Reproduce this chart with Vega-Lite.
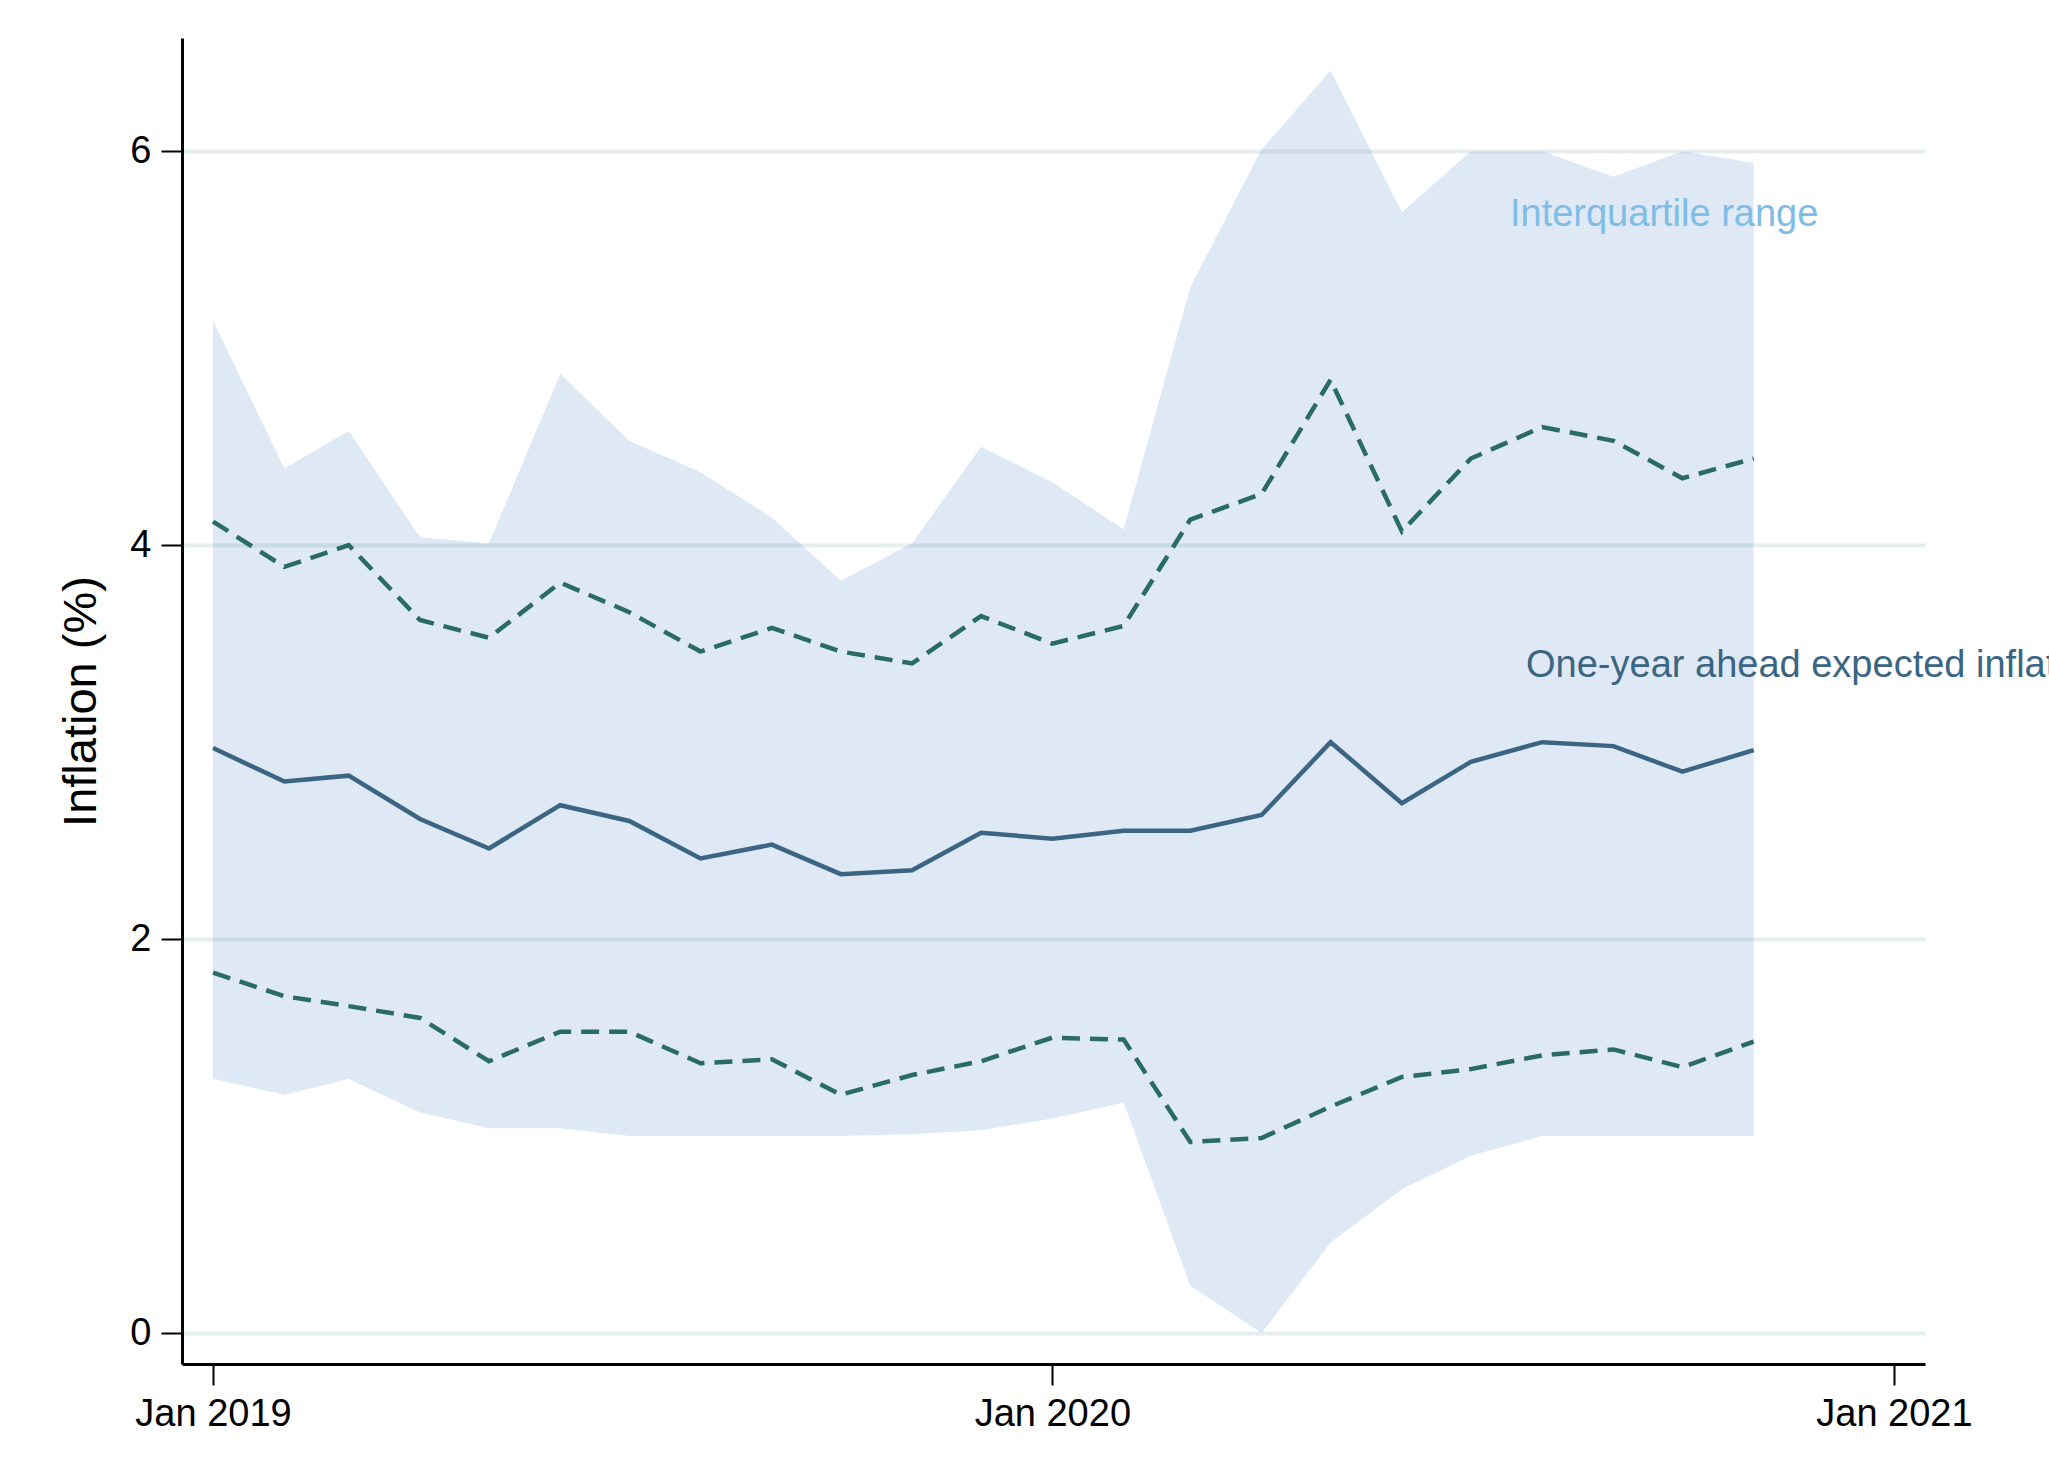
{
  "$schema": "https://vega.github.io/schema/vega-lite/v6.json",
  "width": 1743,
  "height": 1326,
  "autosize": {"type": "none"},
  "padding": {"left": 182, "top": 38, "right": 124, "bottom": 116},
  "background": "white",
  "config": {
    "view": {"stroke": null},
    "font": "Liberation Sans",
    "axis": {
      "labelFont": "Liberation Sans",
      "titleFont": "Liberation Sans",
      "labelColor": "black",
      "titleColor": "black",
      "domainColor": "black",
      "domainWidth": 3,
      "tickColor": "black",
      "tickWidth": 2,
      "tickSize": 21,
      "labelFontSize": 38,
      "titleFontSize": 47,
      "titleFontWeight": "normal",
      "labelPadding": 10
    }
  },
  "datasets": {
    "series": [
      {"date": "2019-01-01", "iqr_low": 1.29, "iqr_high": 5.14, "lower": 1.83, "upper": 4.12, "median": 2.97},
      {"date": "2019-02-01", "iqr_low": 1.21, "iqr_high": 4.39, "lower": 1.71, "upper": 3.89, "median": 2.80},
      {"date": "2019-03-01", "iqr_low": 1.29, "iqr_high": 4.58, "lower": 1.66, "upper": 4.00, "median": 2.83},
      {"date": "2019-04-01", "iqr_low": 1.12, "iqr_high": 4.04, "lower": 1.60, "upper": 3.62, "median": 2.61},
      {"date": "2019-05-01", "iqr_low": 1.04, "iqr_high": 4.01, "lower": 1.38, "upper": 3.53, "median": 2.46},
      {"date": "2019-06-01", "iqr_low": 1.04, "iqr_high": 4.87, "lower": 1.53, "upper": 3.81, "median": 2.68},
      {"date": "2019-07-01", "iqr_low": 1.00, "iqr_high": 4.53, "lower": 1.53, "upper": 3.66, "median": 2.60},
      {"date": "2019-08-01", "iqr_low": 1.00, "iqr_high": 4.37, "lower": 1.37, "upper": 3.46, "median": 2.41},
      {"date": "2019-09-01", "iqr_low": 1.00, "iqr_high": 4.14, "lower": 1.39, "upper": 3.58, "median": 2.48},
      {"date": "2019-10-01", "iqr_low": 1.00, "iqr_high": 3.82, "lower": 1.21, "upper": 3.46, "median": 2.33},
      {"date": "2019-11-01", "iqr_low": 1.01, "iqr_high": 4.01, "lower": 1.31, "upper": 3.40, "median": 2.35},
      {"date": "2019-12-01", "iqr_low": 1.03, "iqr_high": 4.50, "lower": 1.38, "upper": 3.64, "median": 2.54},
      {"date": "2020-01-01", "iqr_low": 1.09, "iqr_high": 4.32, "lower": 1.50, "upper": 3.50, "median": 2.51},
      {"date": "2020-02-01", "iqr_low": 1.17, "iqr_high": 4.08, "lower": 1.49, "upper": 3.59, "median": 2.55},
      {"date": "2020-03-01", "iqr_low": 0.24, "iqr_high": 5.31, "lower": 0.97, "upper": 4.13, "median": 2.55},
      {"date": "2020-04-01", "iqr_low": 0.00, "iqr_high": 6.01, "lower": 0.99, "upper": 4.26, "median": 2.63},
      {"date": "2020-05-01", "iqr_low": 0.46, "iqr_high": 6.41, "lower": 1.15, "upper": 4.84, "median": 3.00},
      {"date": "2020-06-01", "iqr_low": 0.73, "iqr_high": 5.69, "lower": 1.30, "upper": 4.07, "median": 2.69},
      {"date": "2020-07-01", "iqr_low": 0.90, "iqr_high": 6.00, "lower": 1.34, "upper": 4.44, "median": 2.90},
      {"date": "2020-08-01", "iqr_low": 1.00, "iqr_high": 6.00, "lower": 1.41, "upper": 4.60, "median": 3.00},
      {"date": "2020-09-01", "iqr_low": 1.00, "iqr_high": 5.87, "lower": 1.44, "upper": 4.53, "median": 2.98},
      {"date": "2020-10-01", "iqr_low": 1.00, "iqr_high": 6.00, "lower": 1.35, "upper": 4.34, "median": 2.85},
      {"date": "2020-11-01", "iqr_low": 1.00, "iqr_high": 5.94, "lower": 1.48, "upper": 4.44, "median": 2.96}
    ],
    "labels": [
      {"date": "2020-07-18", "value": 5.62, "label": "Interquartile range", "series": "iqr"},
      {"date": "2020-07-25", "value": 3.33, "label": "One-year ahead expected inflation", "series": "median"}
    ]
  },
  "layer": [
    {
      "data": {"name": "series"},
      "mark": {"type": "area", "color": "#5b93cb", "opacity": 0.2},
      "encoding": {
        "x": {
          "field": "date", "type": "temporal",
          "scale": {"type": "utc", "domain": [
            {"year": 2018, "month": 12, "date": 18, "hours": 12, "utc": true},
            {"year": 2021, "month": 1, "date": 14, "hours": 12, "utc": true}
          ]},
          "axis": {
            "title": null,
            "grid": false,
            "values": [
              {"year": 2019, "month": 1, "date": 1, "utc": true},
              {"year": 2020, "month": 1, "date": 1, "utc": true},
              {"year": 2021, "month": 1, "date": 1, "utc": true}
            ],
            "format": "%b %Y",
            "labelFlush": false,
            "labelOverlap": false
          }
        },
        "y": {
          "field": "iqr_low", "type": "quantitative",
          "scale": {"domain": [-0.157, 6.575], "nice": false, "zero": false},
          "axis": {
            "title": "Inflation (%)",
            "values": [0, 2, 4, 6],
            "format": "d",
            "grid": true,
            "gridColor": "#e6eeef",
            "gridWidth": 4,
            "titlePadding": 24
          }
        },
        "y2": {"field": "iqr_high"}
      }
    },
    {
      "data": {"name": "series"},
      "mark": {"type": "line", "color": "#2a6b62", "strokeWidth": 4.5, "strokeDash": [18, 10]},
      "encoding": {
        "x": {"field": "date", "type": "temporal"},
        "y": {"field": "lower", "type": "quantitative"}
      }
    },
    {
      "data": {"name": "series"},
      "mark": {"type": "line", "color": "#2a6b62", "strokeWidth": 4.5, "strokeDash": [18, 10]},
      "encoding": {
        "x": {"field": "date", "type": "temporal"},
        "y": {"field": "upper", "type": "quantitative"}
      }
    },
    {
      "data": {"name": "series"},
      "mark": {"type": "line", "color": "#3b6583", "strokeWidth": 4.5},
      "encoding": {
        "x": {"field": "date", "type": "temporal"},
        "y": {"field": "median", "type": "quantitative"}
      }
    },
    {
      "data": {"name": "labels"},
      "mark": {"type": "text", "align": "left", "baseline": "alphabetic", "fontSize": 38, "font": "Liberation Sans"},
      "encoding": {
        "x": {"field": "date", "type": "temporal"},
        "y": {"field": "value", "type": "quantitative"},
        "text": {"field": "label"},
        "color": {
          "field": "series", "type": "nominal",
          "scale": {"domain": ["iqr", "median"], "range": ["#7fbde6", "#3b6583"]},
          "legend": null
        }
      }
    }
  ]
}
